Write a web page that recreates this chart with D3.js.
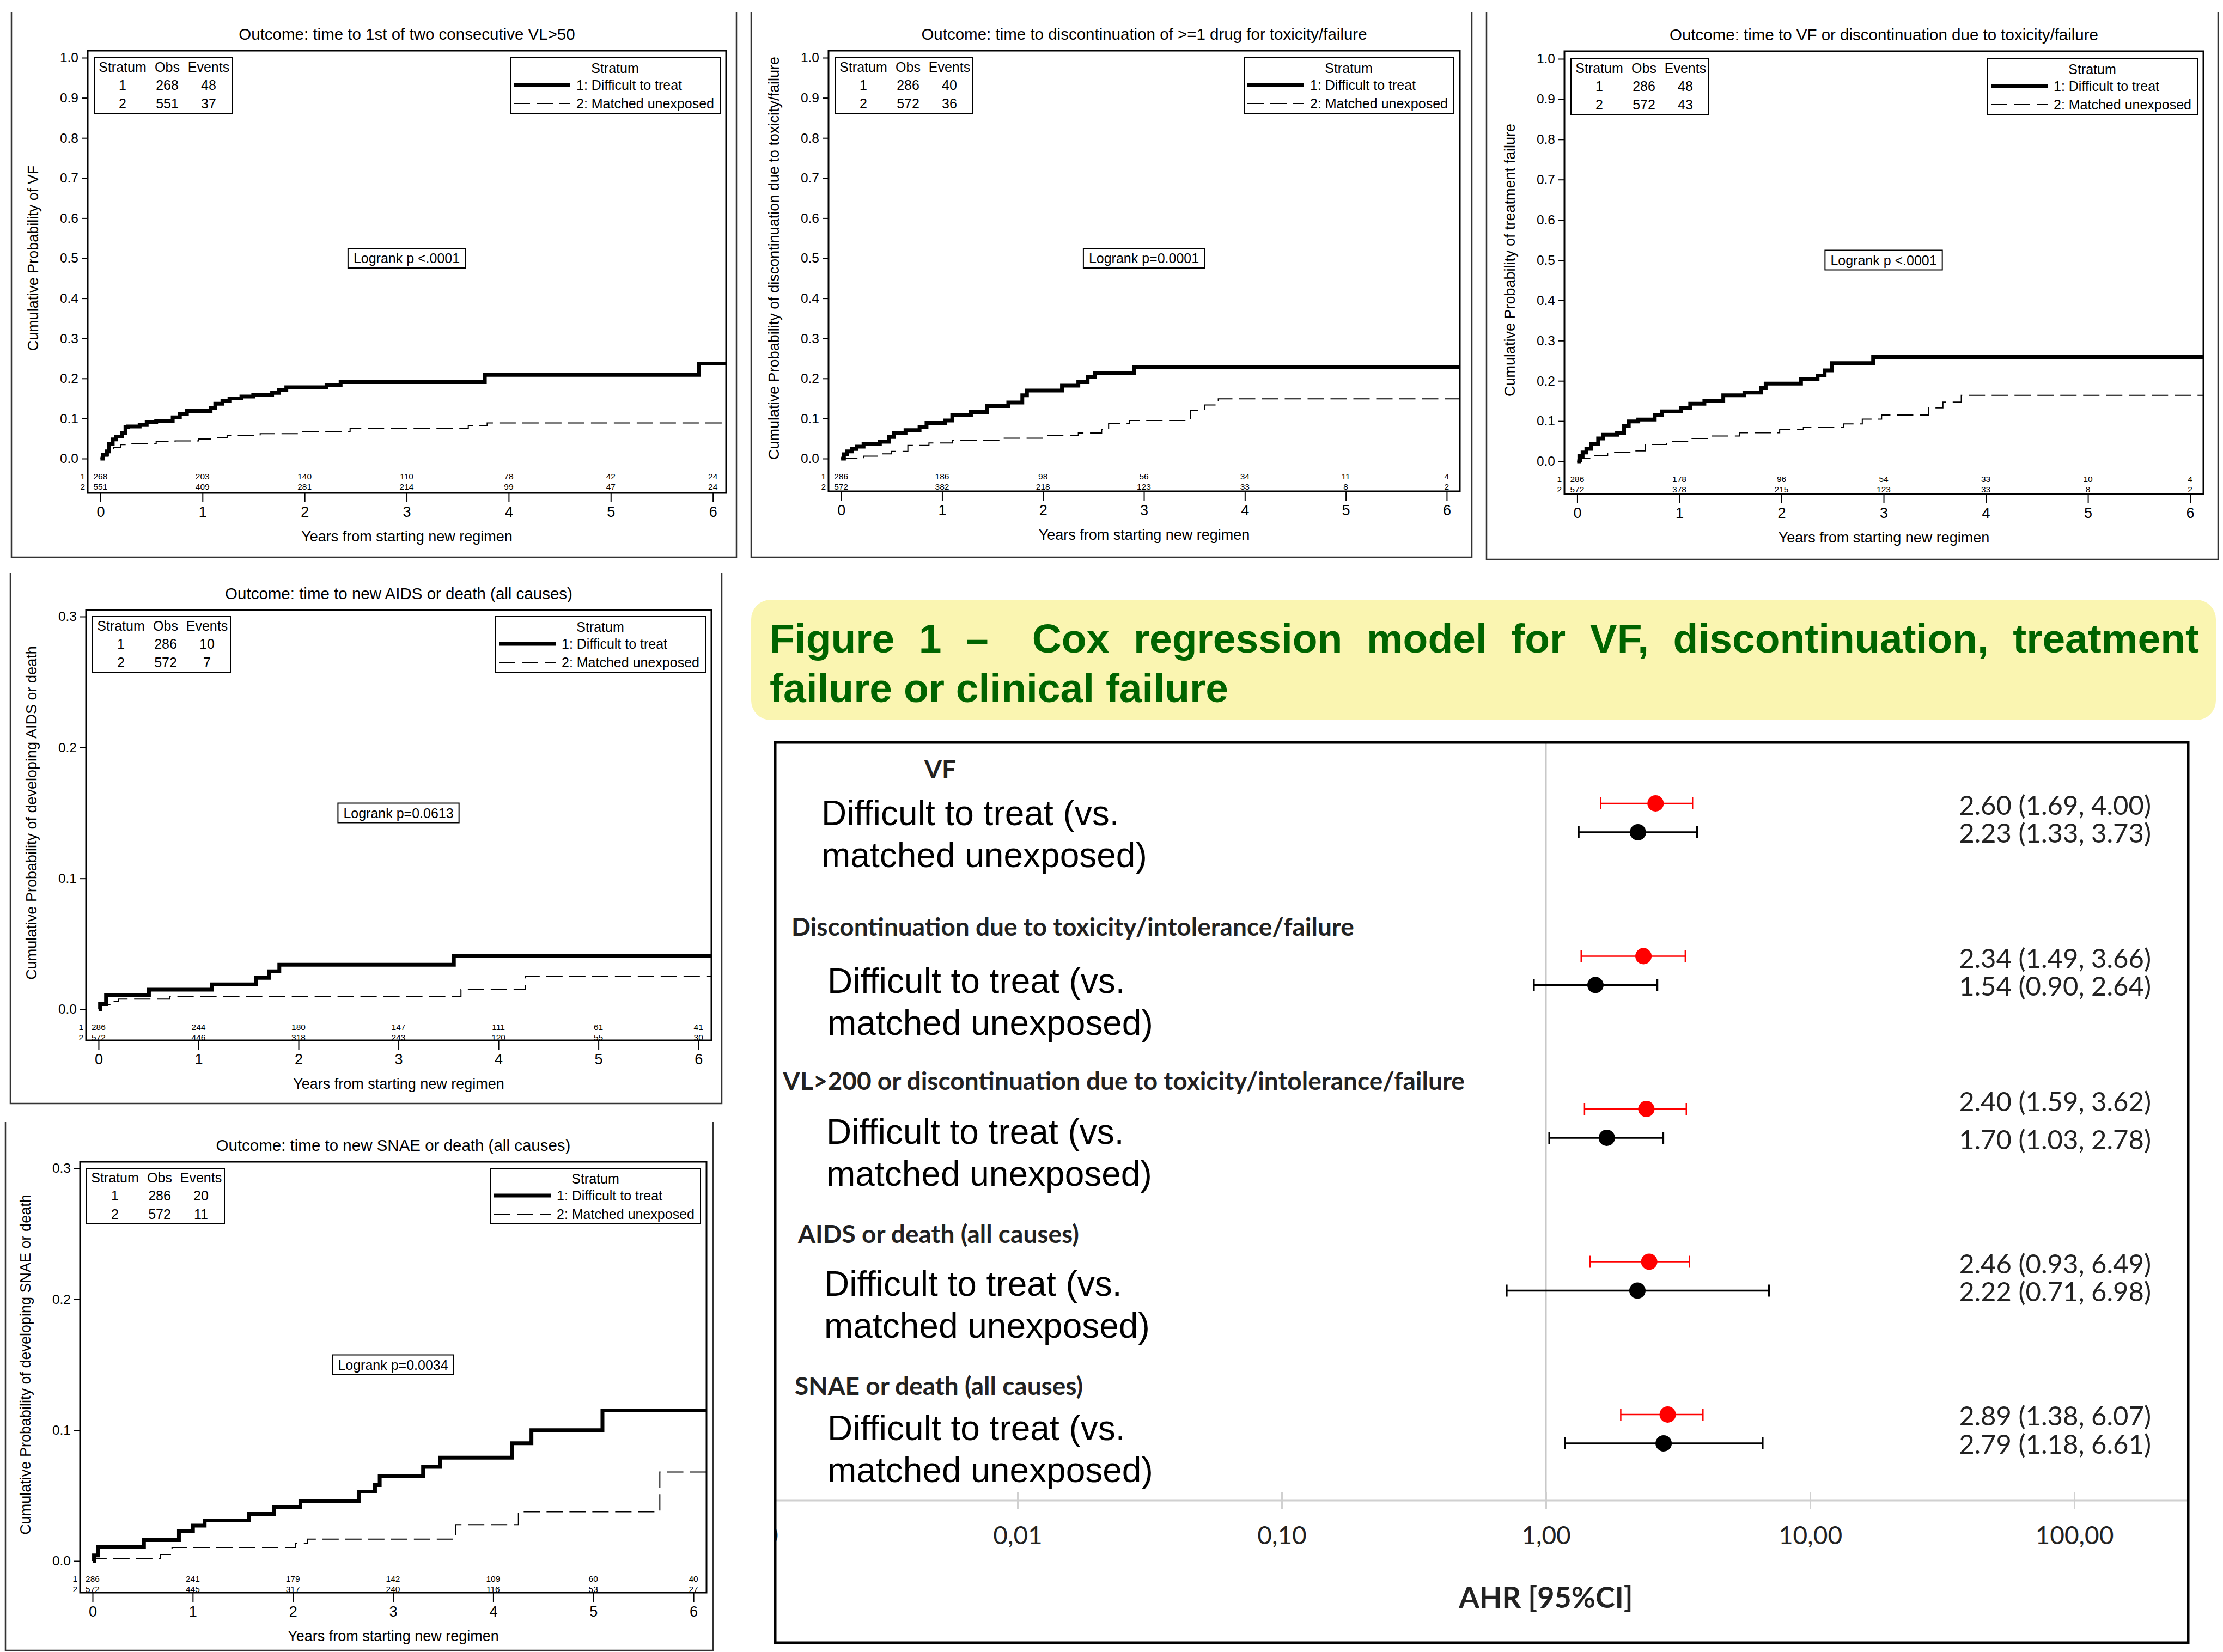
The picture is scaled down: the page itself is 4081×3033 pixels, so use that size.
<!DOCTYPE html>
<html>
<head>
<meta charset="utf-8">
<script src="https://cdn.jsdelivr.net/npm/d3@7"></script>
<style>
  body { margin: 0; background: #fff; }
  svg { display: block; }
</style>
</head>
<body>
<svg id="fig" width="4081" height="3033"></svg>
<script>
// ---------- Kaplan-Meier panels: data ----------
const kmTitles = [
  "Outcome: time to 1st of two consecutive VL>50",
  "Outcome: time to discontinuation of >=1 drug for toxicity/failure",
  "Outcome: time to VF or discontinuation due to toxicity/failure",
  "Outcome: time to new AIDS or death (all causes)",
  "Outcome: time to new SNAE or death (all causes)"
];
const kmYLabels = [
  "Cumulative Probability of VF",
  "Cumulative Probability of discontinuation due to toxicity/failure",
  "Cumulative Probability of treatment failure",
  "Cumulative Probability of developing AIDS or death",
  "Cumulative Probability of developing SNAE or death"
];
const kmLogrank = ["Logrank p <.0001", "Logrank p=0.0001", "Logrank p <.0001", "Logrank p=0.0613", "Logrank p=0.0034"];
const kmYMax = [1, 1, 1, 0.3, 0.3];
const ticksFull = [0, 0.1, 0.2, 0.3, 0.4, 0.5, 0.6, 0.7, 0.8, 0.9, 1.0];
const ticksLow = [0, 0.1, 0.2, 0.3];
const kmObs = [[268, 551], [286, 572], [286, 572], [286, 572], [286, 572]];
const kmEvents = [[48, 37], [40, 36], [48, 43], [10, 7], [20, 11]];
const strata = ["1: Difficult to treat", "2: Matched unexposed"];
const riskYears = [0, 1, 2, 3, 4, 5, 6];
const atRisk1 = [
  [268, 203, 140, 110, 78, 42, 24],
  [286, 186, 98, 56, 34, 11, 4],
  [286, 178, 96, 54, 33, 10, 4],
  [286, 244, 180, 147, 111, 61, 41],
  [286, 241, 179, 142, 109, 60, 40]
];
const atRisk2 = [
  [551, 409, 281, 214, 99, 47, 24],
  [572, 382, 218, 123, 33, 8, 2],
  [572, 378, 215, 123, 33, 8, 2],
  [572, 446, 318, 243, 120, 55, 30],
  [572, 445, 317, 240, 116, 53, 27]
];

// step curves [years, cumulative probability]
const vfDtt = [[0,0],[0.027,0.010],[0.064,0.018],[0.082,0.037],[0.12,0.048],[0.152,0.055],[0.212,0.064],[0.245,0.078],[0.268,0.080],[0.384,0.084],[0.453,0.091],[0.546,0.094],[0.708,0.103],[0.778,0.111],[0.847,0.119],[1.079,0.127],[1.125,0.137],[1.195,0.144],[1.264,0.150],[1.381,0.155],[1.497,0.159],[1.682,0.164],[1.751,0.171],[1.821,0.178],[2.215,0.184],[2.353,0.191],[3.766,0.209],[5.861,0.237]];
const vfMatched = [[0,0],[0.036,0.006],[0.073,0.018],[0.129,0.028],[0.198,0.035],[0.268,0.037],[0.546,0.042],[0.731,0.044],[0.963,0.049],[1.079,0.052],[1.241,0.057],[1.565,0.062],[1.982,0.067],[2.446,0.075],[3.604,0.082],[3.789,0.089]];
const discDtt = [[0,0],[0.028,0.011],[0.06,0.018],[0.106,0.024],[0.153,0.030],[0.222,0.037],[0.384,0.042],[0.476,0.054],[0.523,0.064],[0.638,0.071],[0.777,0.079],[0.846,0.089],[1.031,0.095],[1.101,0.109],[1.286,0.116],[1.448,0.131],[1.656,0.140],[1.795,0.158],[1.841,0.170],[2.188,0.182],[2.35,0.191],[2.442,0.203],[2.512,0.214],[2.905,0.228]];
const discMatched = [[0,0],[0.222,0.006],[0.361,0.012],[0.5,0.018],[0.661,0.033],[0.87,0.039],[1.101,0.045],[1.563,0.051],[2.003,0.057],[2.35,0.064],[2.581,0.073],[2.65,0.087],[2.858,0.095],[3.46,0.120],[3.599,0.134],[3.737,0.149]];
const tfDtt = [[0,0],[0.021,0.013],[0.053,0.022],[0.09,0.031],[0.136,0.044],[0.205,0.057],[0.252,0.066],[0.39,0.070],[0.459,0.088],[0.505,0.099],[0.598,0.104],[0.759,0.115],[0.829,0.124],[1.014,0.133],[1.106,0.143],[1.245,0.150],[1.43,0.164],[1.637,0.171],[1.799,0.182],[1.845,0.193],[2.191,0.204],[2.353,0.213],[2.422,0.226],[2.491,0.244],[2.897,0.259]];
const tfMatched = [[0,0],[0.044,0.008],[0.159,0.015],[0.298,0.022],[0.552,0.026],[0.667,0.042],[0.875,0.049],[1.106,0.057],[1.29,0.063],[1.59,0.071],[1.982,0.079],[2.214,0.084],[2.606,0.093],[2.791,0.105],[2.98,0.115],[3.44,0.133],[3.58,0.147],[3.76,0.164]];
const aidsDtt = [[0,0],[0.015,0.004],[0.075,0.011],[0.504,0.015],[1.133,0.019],[1.575,0.024],[1.706,0.029],[1.808,0.034],[3.554,0.041]];
const aidsMatched = [[0,0],[0.029,0.0034],[0.131,0.006],[0.201,0.0078],[0.714,0.0097],[3.625,0.015],[4.268,0.025]];
const snaeDtt = [[0,0],[0.014,0.0043],[0.056,0.011],[0.513,0.016],[0.862,0.023],[1.002,0.027],[1.119,0.031],[1.562,0.036],[1.809,0.041],[2.075,0.046],[2.657,0.053],[2.82,0.058],[2.867,0.065],[3.3,0.072],[3.473,0.079],[4.186,0.090],[4.382,0.100],[5.091,0.115]];
const snaeMatched = [[0,0],[0.023,0.0017],[0.676,0.005],[0.793,0.0104],[2.028,0.0134],[2.145,0.0167],[3.627,0.0278],[4.252,0.0377],[5.664,0.068]];
const kmCurves = [[vfDtt, vfMatched], [discDtt, discMatched], [tfDtt, tfMatched], [aidsDtt, aidsMatched], [snaeDtt, snaeMatched]];

// ---------- forest plot: data ----------
const forestGroups = [
  "VF",
  "Discontinuation due to toxicity/intolerance/failure",
  "VL>200 or discontinuation due to toxicity/intolerance/failure",
  "AIDS or death (all causes)",
  "SNAE or death (all causes)"
];
const rowLine1 = "Difficult to treat (vs.";
const rowLine2 = "matched unexposed)";
// red bars as drawn in the picture
const redEst = [2.60, 2.34, 2.40, 2.46, 2.89];
const redLo = [1.61, 1.36, 1.40, 1.47, 1.92];
const redHi = [3.59, 3.37, 3.40, 3.49, 3.93];
const blackEst = [2.23, 1.54, 1.70, 2.22, 2.79];
const blackLo = [1.33, 0.90, 1.03, 0.71, 1.18];
const blackHi = [3.73, 2.64, 2.78, 6.98, 6.61];
const redText = ["2.60 (1.69, 4.00)", "2.34 (1.49, 3.66)", "2.40 (1.59, 3.62)", "2.46 (0.93, 6.49)", "2.89 (1.38, 6.07)"];
const blackText = ["2.23 (1.33, 3.73)", "1.54 (0.90, 2.64)", "1.70 (1.03, 2.78)", "2.22 (0.71, 6.98)", "2.79 (1.18, 6.61)"];
const forestTicks = [0.001, 0.01, 0.1, 1, 10, 100];

const bannerLine1 = ["Figure", "1", "–", "Cox", "regression", "model", "for", "VF,", "discontinuation,", "treatment"];
const bannerGapW = [1, 1, 1.8, 1, 1, 1, 1, 1, 1];
const bannerLine2 = "failure or clinical failure";

// ---------- layout ----------
const ARIAL = "'Liberation Sans', Arial, sans-serif";
const CALIBRI = "Lato, 'Open Sans', sans-serif";
const kmLayout = [
  {left: 161, right: 1333, boxTop: 93, boxBottom: 905, zero: 842, top: 106, fl: 21, fr: 1352, ft: 22, fb: 1023},
  {left: 1521, right: 2680, boxTop: 93, boxBottom: 902, zero: 842, top: 106, fl: 1379, fr: 2702, ft: 22, fb: 1023},
  {left: 2872, right: 4045, boxTop: 94, boxBottom: 907, zero: 847, top: 108, fl: 2729, fr: 4072, ft: 22, fb: 1027},
  {left: 158, right: 1306, boxTop: 1120, boxBottom: 1910, zero: 1853, top: 1132, fl: 19, fr: 1325, ft: 1052, fb: 2026},
  {left: 147, right: 1297, boxTop: 2133, boxBottom: 2924, zero: 2866, top: 2145, fl: 10, fr: 1309, ft: 2060, fb: 3030}
];

const svg = d3.select("#fig");
svg.append("rect").attr("width", 4081).attr("height", 3033).attr("fill", "#fff");

function drawKM(k) {
  const L = kmLayout[k];
  const g = svg.append("g").attr("font-family", ARIAL).attr("fill", "#000");
  const x = d3.scaleLinear().domain([-0.125, 6.13]).range([L.left, L.right]);
  const y = d3.scaleLinear().domain([0, kmYMax[k]]).range([L.zero, L.top]);

  // outer frame (open at top)
  g.append("path")
    .attr("d", `M${L.fl},${L.ft}V${L.fb}H${L.fr}V${L.ft}`)
    .attr("fill", "none").attr("stroke", "#333").attr("stroke-width", 2.5);

  g.append("rect")
    .attr("x", L.left).attr("y", L.boxTop)
    .attr("width", L.right - L.left).attr("height", L.boxBottom - L.boxTop)
    .attr("fill", "none").attr("stroke", "#000").attr("stroke-width", 3);

  const yAxis = g.append("g").attr("transform", `translate(${L.left},0)`)
    .call(d3.axisLeft(y).tickValues(k < 3 ? ticksFull : ticksLow).tickFormat(d3.format(".1f")).tickSize(11).tickPadding(6));
  yAxis.select(".domain").remove();
  yAxis.attr("font-size", 24.5).attr("font-family", ARIAL);
  yAxis.selectAll("line").attr("stroke-width", 2);

  const xAxis = g.append("g").attr("transform", `translate(0,${L.boxBottom})`)
    .call(d3.axisBottom(x).tickValues(riskYears).tickFormat(d3.format("d")).tickSize(17).tickPadding(8));
  xAxis.select(".domain").remove();
  xAxis.attr("font-size", 27).attr("font-family", ARIAL);
  xAxis.selectAll("line").attr("stroke-width", 2);

  // titles
  g.append("text").attr("x", (L.left + L.right) / 2).attr("y", L.boxTop - 31)
    .attr("text-anchor", "middle").attr("dominant-baseline", "central")
    .attr("font-size", 29.5).text(kmTitles[k]);
  g.append("text").attr("x", (L.left + L.right) / 2).attr("y", L.boxBottom + 80)
    .attr("text-anchor", "middle").attr("dominant-baseline", "central")
    .attr("font-size", 27).text("Years from starting new regimen");
  g.append("text")
    .attr("transform", `translate(${L.left - 100},${(L.zero + L.top) / 2}) rotate(-90)`)
    .attr("text-anchor", "middle").attr("dominant-baseline", "central")
    .attr("font-size", 27).text(kmYLabels[k]);

  // curves
  const line = d3.line().x(d => x(d[0])).y(d => y(d[1])).curve(d3.curveStepAfter);
  kmCurves[k].forEach((c, s) => {
    const pts = c.concat([[6.13, c[c.length - 1][1]]]);
    g.append("path").datum(pts).attr("d", line)
      .attr("fill", "none").attr("stroke", "#000")
      .attr("stroke-width", s === 0 ? 7 : 2)
      .attr("stroke-dasharray", s === 0 ? null : "30,12");
  });

  // number at risk
  [atRisk1[k], atRisk2[k]].forEach((row, s) => {
    const ry = L.zero + (s === 0 ? 32 : 51);
    g.append("text").attr("x", L.left - 5).attr("y", ry)
      .attr("text-anchor", "end").attr("dominant-baseline", "central")
      .attr("font-size", 15.5).text(s + 1);
    g.selectAll(null).data(row).join("text")
      .attr("x", (d, i) => x(riskYears[i])).attr("y", ry)
      .attr("text-anchor", "middle").attr("dominant-baseline", "central")
      .attr("font-size", 15.5).text(d => d);
  });

  // stats box
  const sx = L.left + 12, sy = L.top;
  g.append("rect").attr("x", sx).attr("y", sy).attr("width", 253).attr("height", 102)
    .attr("fill", "#fff").attr("stroke", "#000").attr("stroke-width", 2);
  const cols = [52, 134, 210];
  ["Stratum", "Obs", "Events"].forEach((h, i) => {
    g.append("text").attr("x", sx + cols[i]).attr("y", sy + 17)
      .attr("text-anchor", "middle").attr("dominant-baseline", "central")
      .attr("font-size", 25).text(h);
  });
  [0, 1].forEach(s => {
    [s + 1, kmObs[k][s], kmEvents[k][s]].forEach((v, i) => {
      g.append("text").attr("x", sx + cols[i]).attr("y", sy + (s === 0 ? 50 : 84))
        .attr("text-anchor", "middle").attr("dominant-baseline", "central")
        .attr("font-size", 25).text(v);
    });
  });

  // legend box
  const lx = L.right - 11 - 385, ly = L.top;
  g.append("rect").attr("x", lx).attr("y", ly).attr("width", 385).attr("height", 102)
    .attr("fill", "#fff").attr("stroke", "#000").attr("stroke-width", 2);
  g.append("text").attr("x", lx + 192).attr("y", ly + 19)
    .attr("text-anchor", "middle").attr("dominant-baseline", "central")
    .attr("font-size", 25).text("Stratum");
  strata.forEach((s, i) => {
    const yy = ly + (i === 0 ? 50 : 84);
    g.append("line").attr("x1", lx + 6).attr("x2", lx + 110).attr("y1", yy).attr("y2", yy)
      .attr("stroke", "#000").attr("stroke-width", i === 0 ? 7 : 2)
      .attr("stroke-dasharray", i === 0 ? null : "30,12");
    g.append("text").attr("x", lx + 121).attr("y", yy)
      .attr("dominant-baseline", "central").attr("font-size", 25).text(s);
  });

  // logrank box
  const cx = x(3), cy = y(kmYMax[k] / 2);
  const lt = g.append("text").attr("x", cx).attr("y", cy)
    .attr("text-anchor", "middle").attr("dominant-baseline", "central")
    .attr("font-size", 25).text(kmLogrank[k]);
  const w = lt.node().getComputedTextLength() + 20;
  g.insert("rect", () => lt.node()).attr("x", cx - w / 2).attr("y", cy - 18)
    .attr("width", w).attr("height", 36)
    .attr("fill", "#fff").attr("stroke", "#000").attr("stroke-width", 2);
}

d3.range(5).forEach(drawKM);

// ---------- title banner ----------
const banner = svg.append("g").attr("font-family", ARIAL).attr("font-weight", "bold").attr("fill", "#006400");
banner.append("rect").attr("x", 1379).attr("y", 1101).attr("width", 2689).attr("height", 221)
  .attr("rx", 36).attr("fill", "#faf5b1");
(function justify() {
  const x0 = 1413, x1 = 4037, by = 1198;
  const words = bannerLine1.map(wd => banner.append("text").attr("y", by).attr("font-size", 75).text(wd));
  const widths = words.map(t => t.node().getComputedTextLength());
  const unit = (x1 - x0 - d3.sum(widths)) / d3.sum(bannerGapW);
  let cur = x0;
  words.forEach((t, i) => {
    t.attr("x", cur);
    cur += widths[i] + (i < bannerGapW.length ? bannerGapW[i] * unit : 0);
  });
})();
banner.append("text").attr("x", 1413).attr("y", 1289).attr("font-size", 75).text(bannerLine2);

// ---------- forest plot ----------
const fx = d3.scaleLog().domain([0.001, 1000]).range([1383, 4293]);
const fy = d3.scalePoint().domain(d3.range(5)).range([1475, 2597]);
const FB = {x: 1423, y: 1363, w: 2594, h: 1653};
const axisY = 2755;
const headX = [1697, 1453, 1437, 1465, 1459];
const headDy = [-64, -55, -53, -52, -54];
const labX = [1508, 1519, 1517, 1513, 1519];
const labDy = [18, 45, 42, 40, 25];
const redLabDy = [2, 2, -15, 2, 1];
const blackLabDy = [0, 0, 2, 0, 0];

const forest = svg.append("g");
svg.append("defs").append("clipPath").attr("id", "fclip")
  .append("rect").attr("x", FB.x).attr("y", FB.y).attr("width", FB.w).attr("height", FB.h);

forest.append("line").attr("x1", fx(1)).attr("x2", fx(1)).attr("y1", FB.y).attr("y2", axisY)
  .attr("stroke", "#c8c8c8").attr("stroke-width", 3);
forest.append("line").attr("x1", FB.x).attr("x2", FB.x + FB.w).attr("y1", axisY).attr("y2", axisY)
  .attr("stroke", "#d0d0d0").attr("stroke-width", 3);
const fAxis = forest.append("g").attr("clip-path", "url(#fclip)")
  .append("g").attr("transform", `translate(0,${axisY - 15})`)
  .call(d3.axisBottom(fx).tickValues(forestTicks)
    .tickFormat(d => d3.format(".2f")(d).replace(".", ","))
    .tickSize(30).tickPadding(32));
fAxis.select(".domain").remove();
fAxis.selectAll("line").attr("stroke", "#d0d0d0").attr("stroke-width", 3);
fAxis.attr("font-size", 46).attr("font-family", CALIBRI).selectAll("text").attr("fill", "#222");

forest.append("text").attr("x", fx(1)).attr("y", 2931)
  .attr("text-anchor", "middle").attr("dominant-baseline", "central")
  .attr("font-family", CALIBRI).attr("font-weight", "bold").attr("font-size", 54)
  .attr("fill", "#222").text("AHR [95%CI]");

forestGroups.forEach((name, i) => {
  const gy = fy(i);
  forest.append("text").attr("x", headX[i]).attr("y", gy + headDy[i])
    .attr("dominant-baseline", "central").attr("font-family", CALIBRI)
    .attr("font-weight", "bold").attr("font-size", 46).attr("fill", "#222").text(name);
  [rowLine1, rowLine2].forEach((t, j) => {
    forest.append("text").attr("x", labX[i]).attr("y", gy + labDy[i] + j * 77)
      .attr("dominant-baseline", "central").attr("font-family", ARIAL)
      .attr("font-size", 64).attr("fill", "#000").text(t);
  });
  const rows = [
    {y: gy, est: redEst[i], lo: redLo[i], hi: redHi[i], c: "#ff0000", sw: 2.5, txt: redText[i], ty: gy + redLabDy[i]},
    {y: gy + 53, est: blackEst[i], lo: blackLo[i], hi: blackHi[i], c: "#000", sw: 3.5, txt: blackText[i], ty: gy + 53 + blackLabDy[i]}
  ];
  rows.forEach(r => {
    forest.append("line").attr("x1", fx(r.lo)).attr("x2", fx(r.hi)).attr("y1", r.y).attr("y2", r.y)
      .attr("stroke", r.c).attr("stroke-width", r.sw);
    [r.lo, r.hi].forEach(v => {
      forest.append("line").attr("x1", fx(v)).attr("x2", fx(v)).attr("y1", r.y - 11).attr("y2", r.y + 11)
        .attr("stroke", r.c).attr("stroke-width", r.sw);
    });
    forest.append("circle").attr("cx", fx(r.est)).attr("cy", r.y).attr("r", 15).attr("fill", r.c);
    forest.append("text").attr("x", 3949).attr("y", r.ty)
      .attr("text-anchor", "end").attr("dominant-baseline", "central")
      .attr("font-family", CALIBRI).attr("font-size", 49).attr("fill", "#222").text(r.txt);
  });
});

forest.append("rect").attr("x", FB.x).attr("y", FB.y).attr("width", FB.w).attr("height", FB.h)
  .attr("fill", "none").attr("stroke", "#000").attr("stroke-width", 5);
</script>
</body>
</html>
